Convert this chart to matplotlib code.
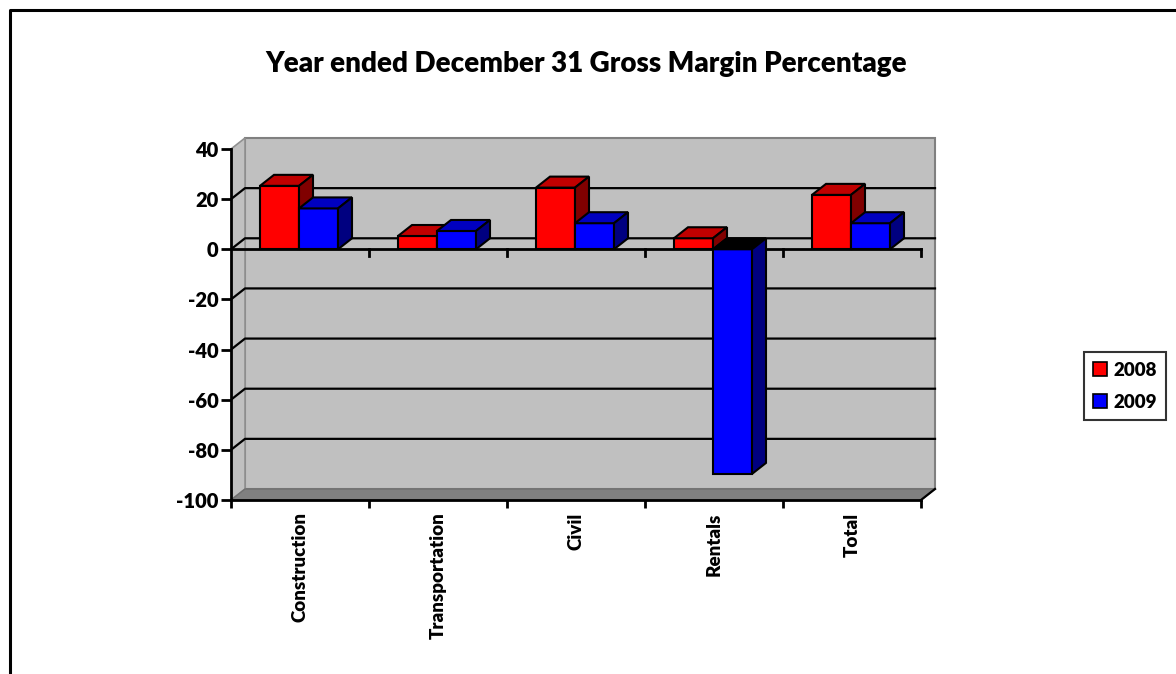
import matplotlib
matplotlib.use("Agg")
import matplotlib.pyplot as plt
from matplotlib.patches import Polygon, Patch
from matplotlib.lines import Line2D

plt.rcParams['font.family'] = ['Lato', 'DejaVu Sans']
plt.rcParams['font.weight'] = 'heavy'
FW = 'heavy'

# gross margin % by segment
categories = ['Construction', 'Transportation', 'Civil', 'Rentals', 'Total']
years = ['2008', '2009']
margin_2008 = [25.3, 5.3, 24.6, 4.4, 21.7]
margin_2009 = [16.3, 7.3, 10.4, -89.6, 10.4]
y_ticks = [40, 20, 0, -20, -40, -60, -80, -100]

# face colours: front, top, side
red_faces = ('#FF0000', '#C00000', '#800000')
blue_faces = ('#0000FF', '#0000C0', '#000080')

W, H = 1176, 674
fig = plt.figure(figsize=(W / 100, H / 100), dpi=100)

# plot area in pixels
px_x0, px_x1 = 231, 941          # x=0 .. right edge
px_top, px_bot = 130, 510        # from top of figure
sx = 138.0                       # px per category
sy = 351.0 / 140.0               # px per percent
ax = fig.add_axes([px_x0 / W, (H - px_bot) / H, (px_x1 - px_x0) / W, (px_bot - px_top) / H])
ax.set_xlim(0, (px_x1 - px_x0) / sx)
ax.set_ylim(-100 - (px_bot - 500) / sy, 40 + (149 - px_top) / sy)
ax.patch.set_visible(False)

ymin, ymax = min(y_ticks), max(y_ticks)
n = len(categories)
dx, dy = 14 / sx, 11 / sy        # depth offset
bw = 39 / sx                     # bar width
b0 = 29 / sx                     # first bar offset inside category

# walls and floor
ax.add_patch(Polygon([(dx, ymin + dy), (n + dx, ymin + dy), (n + dx, ymax + dy), (dx, ymax + dy)],
                     closed=True, fc='#C0C0C0', ec='#808080', lw=1.5, zorder=1))
ax.add_patch(Polygon([(0, ymin), (0, ymax), (dx, ymax + dy), (dx, ymin + dy)],
                     closed=True, fc='#C0C0C0', ec='#909090', lw=1.2, zorder=1))
ax.add_patch(Polygon([(0, ymin), (n, ymin), (n + dx, ymin + dy), (dx, ymin + dy)],
                     closed=True, fc='#808080', ec='#707070', lw=1.0, zorder=1))

# gridlines on back wall with the diagonal on the side wall
for v in y_ticks[1:-1]:
    ax.plot([0, dx, n + dx], [v, v + dy, v + dy], color='black', lw=1.6, zorder=2)
ax.plot([n, n + dx], [ymin, ymin + dy], color='black', lw=1.6, zorder=2)

# category axis at zero
ax.plot([0, n], [0, 0], color='black', lw=2, zorder=3)
for i in range(1, n + 1):
    ax.plot([i, i], [0, -7 / sy], color='black', lw=2, zorder=3)


def bar3d(x, v, faces):
    front, top, side = faces
    ax.add_patch(Polygon([(x, 0), (x + bw, 0), (x + bw, v), (x, v)],
                         closed=True, fc=front, ec='black', lw=1.5, zorder=4))
    top_fc = top if v >= 0 else 'black'
    ax.add_patch(Polygon([(x, max(v, 0)), (x + bw, max(v, 0)), (x + bw + dx, max(v, 0) + dy),
                          (x + dx, max(v, 0) + dy)],
                         closed=True, fc=top_fc, ec='black', lw=1.5, zorder=4))
    ax.add_patch(Polygon([(x + bw, 0), (x + bw + dx, dy), (x + bw + dx, v + dy), (x + bw, v)],
                         closed=True, fc=side, ec='black', lw=1.5, zorder=4))


for i in range(n):
    bar3d(i + b0, margin_2008[i], red_faces)
    bar3d(i + b0 + bw, margin_2009[i], blue_faces)

# axes
for s in ['top', 'right']:
    ax.spines[s].set_visible(False)
ax.spines['left'].set_bounds(ymin, ymax)
ax.spines['bottom'].set_bounds(0, n)
ax.spines['bottom'].set_position(('data', ymin))
for s in ['left', 'bottom']:
    ax.spines[s].set_linewidth(2)
    ax.spines[s].set_zorder(5)

ax.set_yticks(y_ticks)
ax.set_yticklabels([str(v) for v in y_ticks], fontsize=14.5, fontweight=FW)
ax.tick_params(axis='y', direction='out', length=7, width=2, pad=2)

ax.set_xticks(range(n + 1))
ax.set_xticklabels([])
ax.tick_params(axis='x', which='major', direction='out', length=6, width=2)
ax.set_xticks([i + 0.5 for i in range(n)], minor=True)
ax.set_xticklabels(categories, minor=True, rotation=90, fontsize=13.5, fontweight=FW)
ax.tick_params(axis='x', which='minor', length=0, pad=9)

fig.text(586 / W, 1 - 64 / H, 'Year ended December 31 Gross Margin Percentage',
         ha='center', va='center', fontsize=20, fontweight=FW)

handles = [Patch(fc=red_faces[0], ec='black', lw=1.2), Patch(fc=blue_faces[0], ec='black', lw=1.2)]
leg = fig.legend(handles, years, loc='center', bbox_to_anchor=(1125 / W, 1 - 386 / H),
                 prop={'size': 13.5, 'weight': FW}, fancybox=False, frameon=True,
                 handlelength=0.75, handleheight=0.75, handletextpad=0.35, labelspacing=0.8,
                 borderpad=0.5, borderaxespad=0)
leg.get_frame().set_edgecolor('black')
leg.get_frame().set_linewidth(1.5)

# outer border (left and top edges)
fig.add_artist(Line2D([10 / W, 10 / W, 1], [0, 1 - 10 / H, 1 - 10 / H],
                      color='black', lw=2.2, transform=fig.transFigure))

fig.savefig('out.png', dpi=100)
